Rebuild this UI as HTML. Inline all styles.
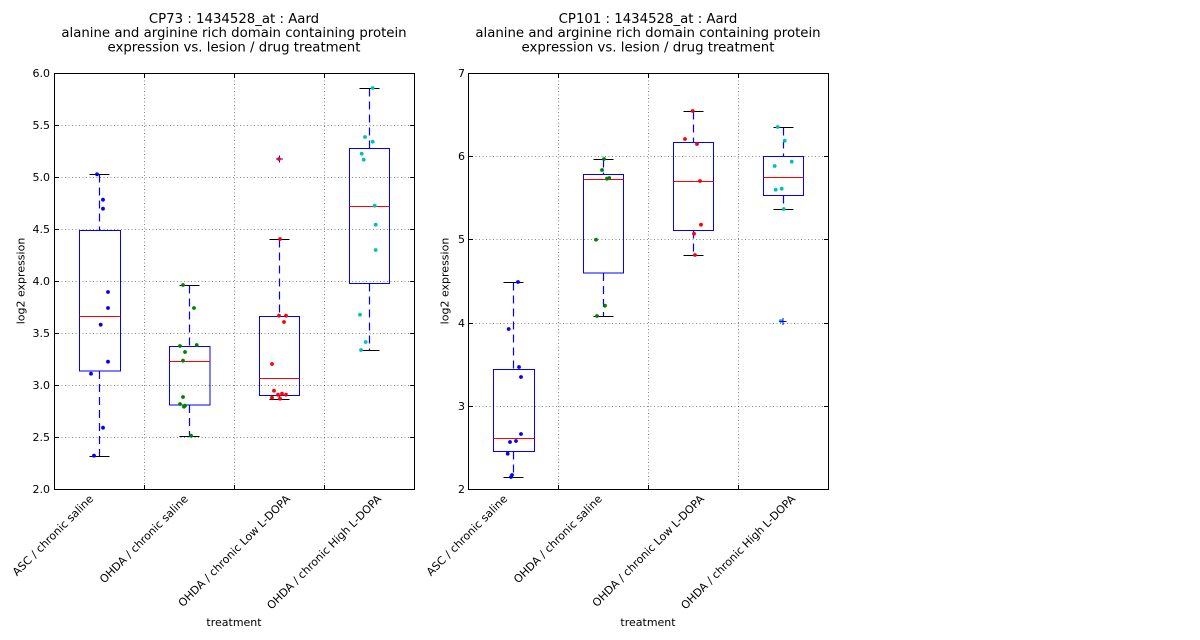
<!DOCTYPE html>
<html><head><meta charset="utf-8"><style>
html,body{margin:0;padding:0;background:#fff;}
svg{display:block;}
text{font-family:"DejaVu Sans","Liberation Sans",sans-serif;fill:#000;}
</style></head><body>
<svg width="1200" height="640" viewBox="0 0 1200 640" xmlns="http://www.w3.org/2000/svg">
<rect width="1200" height="640" fill="#fff"/>

<!-- ================= LEFT PANEL ================= -->
<g>
<g stroke="#000" stroke-opacity="0.6" stroke-width="0.8" stroke-dasharray="1,2.5" fill="none">
<line x1="54.5" y1="437.5" x2="414.5" y2="437.5"/>
<line x1="54.5" y1="385.5" x2="414.5" y2="385.5"/>
<line x1="54.5" y1="333.5" x2="414.5" y2="333.5"/>
<line x1="54.5" y1="281.5" x2="414.5" y2="281.5"/>
<line x1="54.5" y1="229.5" x2="414.5" y2="229.5"/>
<line x1="54.5" y1="177.5" x2="414.5" y2="177.5"/>
<line x1="54.5" y1="125.5" x2="414.5" y2="125.5"/>
<line x1="144.5" y1="73.5" x2="144.5" y2="489.5"/>
<line x1="234.5" y1="73.5" x2="234.5" y2="489.5"/>
<line x1="324.5" y1="73.5" x2="324.5" y2="489.5"/>
</g>
<g stroke="#000" stroke-width="1">
<line x1="54.5" y1="437.5" x2="59" y2="437.5"/><line x1="414.5" y1="437.5" x2="410" y2="437.5"/>
<line x1="54.5" y1="385.5" x2="59" y2="385.5"/><line x1="414.5" y1="385.5" x2="410" y2="385.5"/>
<line x1="54.5" y1="333.5" x2="59" y2="333.5"/><line x1="414.5" y1="333.5" x2="410" y2="333.5"/>
<line x1="54.5" y1="281.5" x2="59" y2="281.5"/><line x1="414.5" y1="281.5" x2="410" y2="281.5"/>
<line x1="54.5" y1="229.5" x2="59" y2="229.5"/><line x1="414.5" y1="229.5" x2="410" y2="229.5"/>
<line x1="54.5" y1="177.5" x2="59" y2="177.5"/><line x1="414.5" y1="177.5" x2="410" y2="177.5"/>
<line x1="54.5" y1="125.5" x2="59" y2="125.5"/><line x1="414.5" y1="125.5" x2="410" y2="125.5"/>
<line x1="144.5" y1="489.5" x2="144.5" y2="485"/><line x1="144.5" y1="73.5" x2="144.5" y2="78"/>
<line x1="234.5" y1="489.5" x2="234.5" y2="485"/><line x1="234.5" y1="73.5" x2="234.5" y2="78"/>
<line x1="324.5" y1="489.5" x2="324.5" y2="485"/><line x1="324.5" y1="73.5" x2="324.5" y2="78"/>
</g>

<g fill="none" stroke-width="1">
<rect x="79.5" y="230.5" width="41" height="140.5" stroke="#0000ff"/>
<line x1="79.5" y1="316.5" x2="120.5" y2="316.5" stroke="#ff0000"/>
<line x1="99.5" y1="174.5" x2="99.5" y2="230.5" stroke="#0000ff" stroke-width="1.2" stroke-dasharray="8,5"/>
<line x1="99.5" y1="371" x2="99.5" y2="456.5" stroke="#0000ff" stroke-width="1.2" stroke-dasharray="8,5"/>
<line x1="89.5" y1="174.5" x2="109.5" y2="174.5" stroke="#000"/>
<line x1="89.5" y1="456.5" x2="109.5" y2="456.5" stroke="#000"/>

<rect x="169.5" y="346.5" width="40.5" height="58.5" stroke="#0000ff"/>
<line x1="169.5" y1="361.5" x2="210" y2="361.5" stroke="#ff0000"/>
<line x1="189.5" y1="285.5" x2="189.5" y2="346.5" stroke="#0000ff" stroke-width="1.2" stroke-dasharray="8,5"/>
<line x1="189.5" y1="405" x2="189.5" y2="436.5" stroke="#0000ff" stroke-width="1.2" stroke-dasharray="8,5"/>
<line x1="179.5" y1="285.5" x2="199.5" y2="285.5" stroke="#000"/>
<line x1="179.5" y1="436.5" x2="199.5" y2="436.5" stroke="#000"/>

<rect x="259.5" y="316.5" width="40" height="79" stroke="#0000ff"/>
<line x1="259.5" y1="378.5" x2="299.5" y2="378.5" stroke="#ff0000"/>
<line x1="279.5" y1="239.5" x2="279.5" y2="316.5" stroke="#0000ff" stroke-width="1.2" stroke-dasharray="8,5"/>
<line x1="279.5" y1="395.5" x2="279.5" y2="399.5" stroke="#0000ff" stroke-width="1.2"/>
<line x1="269.5" y1="239.5" x2="289.5" y2="239.5" stroke="#000"/>
<line x1="269.5" y1="399.5" x2="289.5" y2="399.5" stroke="#000"/>
<line x1="276" y1="159" x2="283" y2="159" stroke="#0000ff"/>
<line x1="279.5" y1="155.5" x2="279.5" y2="162.5" stroke="#0000ff"/>

<rect x="349.5" y="148.5" width="40" height="135" stroke="#0000ff"/>
<line x1="349.5" y1="206.5" x2="389.5" y2="206.5" stroke="#ff0000"/>
<line x1="369.5" y1="88.5" x2="369.5" y2="148.5" stroke="#0000ff" stroke-width="1.2" stroke-dasharray="8,5"/>
<line x1="369.5" y1="283.5" x2="369.5" y2="350.5" stroke="#0000ff" stroke-width="1.2" stroke-dasharray="8,5"/>
<line x1="359.5" y1="88.5" x2="379.5" y2="88.5" stroke="#000"/>
<line x1="359.5" y1="350.5" x2="379.5" y2="350.5" stroke="#000"/>
</g>

<g fill="#0000ff">
<circle cx="97" cy="174.3" r="1.9"/><circle cx="103" cy="199.7" r="1.9"/><circle cx="103" cy="208.7" r="1.9"/>
<circle cx="108" cy="292" r="1.9"/><circle cx="108" cy="308" r="1.9"/><circle cx="100.7" cy="324.7" r="1.9"/>
<circle cx="108" cy="361.7" r="1.9"/><circle cx="91" cy="373.7" r="1.9"/><circle cx="103" cy="427.7" r="1.9"/>
<circle cx="94" cy="455.7" r="1.9"/>
</g>
<g fill="#008000">
<circle cx="183" cy="285" r="1.9"/><circle cx="194" cy="308" r="1.9"/><circle cx="180" cy="346" r="1.9"/>
<circle cx="196.7" cy="345" r="1.9"/><circle cx="185" cy="352" r="1.9"/><circle cx="183" cy="360.7" r="1.9"/>
<circle cx="183" cy="397" r="1.9"/><circle cx="180" cy="404" r="1.9"/><circle cx="184" cy="406.7" r="1.9"/>
<circle cx="185" cy="405.7" r="1.9"/><circle cx="191" cy="435.7" r="1.9"/>
</g>
<g fill="#ff0000">
<circle cx="279" cy="159" r="1.9"/><circle cx="280" cy="239" r="1.9"/><circle cx="279" cy="315.7" r="1.9"/>
<circle cx="286" cy="315.7" r="1.9"/><circle cx="284" cy="322" r="1.9"/><circle cx="272" cy="364" r="1.9"/>
<circle cx="274" cy="390.7" r="1.9"/><circle cx="278" cy="394.7" r="1.9"/><circle cx="282" cy="393.7" r="1.9"/>
<circle cx="286" cy="394.7" r="1.9"/><circle cx="272" cy="397.7" r="1.9"/><circle cx="280" cy="398.7" r="1.9"/>
</g>
<g fill="#00bfbf">
<circle cx="372.7" cy="88" r="1.9"/><circle cx="365" cy="137" r="1.9"/><circle cx="372.7" cy="141.7" r="1.9"/>
<circle cx="361.7" cy="153.7" r="1.9"/><circle cx="363.7" cy="159.7" r="1.9"/><circle cx="374.7" cy="205.7" r="1.9"/>
<circle cx="375.7" cy="224.7" r="1.9"/><circle cx="375.7" cy="250" r="1.9"/><circle cx="360" cy="314.7" r="1.9"/>
<circle cx="365.7" cy="342" r="1.9"/><circle cx="361" cy="350" r="1.9"/>
</g>

<rect x="54.5" y="73.5" width="360" height="416" fill="none" stroke="#000" stroke-width="1"/>

<g font-size="11" text-anchor="end">
<text x="50" y="493">2.0</text>
<text x="50" y="441">2.5</text>
<text x="50" y="389">3.0</text>
<text x="50" y="337">3.5</text>
<text x="50" y="285">4.0</text>
<text x="50" y="233">4.5</text>
<text x="50" y="181">5.0</text>
<text x="50" y="129">5.5</text>
<text x="50" y="77">6.0</text>
</g>
<text x="24.5" y="281" font-size="11" text-anchor="middle" transform="rotate(-90 24.5 281)">log2 expression</text>

<g font-size="11" text-anchor="end">
<text x="94" y="499.5" transform="rotate(-45 94 499.5)">ASC / chronic saline</text>
<text x="188.7" y="499.5" transform="rotate(-45 188.7 499.5)">OHDA / chronic saline</text>
<text x="290.8" y="499.5" transform="rotate(-45 290.8 499.5)">OHDA / chronic Low L-DOPA</text>
<text x="382" y="499.5" transform="rotate(-45 382 499.5)">OHDA / chronic High L-DOPA</text>
</g>
<text x="234" y="626" font-size="11" text-anchor="middle">treatment</text>

<g font-size="13.3" text-anchor="middle">
<text x="234" y="23">CP73 : 1434528_at : Aard</text>
<text x="234" y="37">alanine and arginine rich domain containing protein</text>
<text x="234" y="51.5">expression vs. lesion / drug treatment</text>
</g>
</g>

<!-- ================= RIGHT PANEL ================= -->
<g>
<g stroke="#000" stroke-opacity="0.6" stroke-width="0.8" stroke-dasharray="1,2.5" fill="none">
<line x1="468.5" y1="406.5" x2="828.5" y2="406.5"/>
<line x1="468.5" y1="323.5" x2="828.5" y2="323.5"/>
<line x1="468.5" y1="239.5" x2="828.5" y2="239.5"/>
<line x1="468.5" y1="156.5" x2="828.5" y2="156.5"/>
<line x1="558.5" y1="73.5" x2="558.5" y2="489.5"/>
<line x1="648.5" y1="73.5" x2="648.5" y2="489.5"/>
<line x1="738.5" y1="73.5" x2="738.5" y2="489.5"/>
</g>
<g stroke="#000" stroke-width="1">
<line x1="468.5" y1="406.5" x2="473" y2="406.5"/><line x1="828.5" y1="406.5" x2="824" y2="406.5"/>
<line x1="468.5" y1="323.5" x2="473" y2="323.5"/><line x1="828.5" y1="323.5" x2="824" y2="323.5"/>
<line x1="468.5" y1="239.5" x2="473" y2="239.5"/><line x1="828.5" y1="239.5" x2="824" y2="239.5"/>
<line x1="468.5" y1="156.5" x2="473" y2="156.5"/><line x1="828.5" y1="156.5" x2="824" y2="156.5"/>
<line x1="558.5" y1="489.5" x2="558.5" y2="485"/><line x1="558.5" y1="73.5" x2="558.5" y2="78"/>
<line x1="648.5" y1="489.5" x2="648.5" y2="485"/><line x1="648.5" y1="73.5" x2="648.5" y2="78"/>
<line x1="738.5" y1="489.5" x2="738.5" y2="485"/><line x1="738.5" y1="73.5" x2="738.5" y2="78"/>
</g>

<g fill="none" stroke-width="1">
<rect x="493.5" y="369.5" width="41" height="82" stroke="#0000ff"/>
<line x1="493.5" y1="438.5" x2="534.5" y2="438.5" stroke="#ff0000"/>
<line x1="513.5" y1="282.5" x2="513.5" y2="369.5" stroke="#0000ff" stroke-width="1.2" stroke-dasharray="8,5"/>
<line x1="513.5" y1="451.5" x2="513.5" y2="477.5" stroke="#0000ff" stroke-width="1.2" stroke-dasharray="8,5"/>
<line x1="503.5" y1="282.5" x2="523.5" y2="282.5" stroke="#000"/>
<line x1="503.5" y1="477.5" x2="523.5" y2="477.5" stroke="#000"/>

<rect x="583.5" y="174.5" width="40" height="98.5" stroke="#0000ff"/>
<line x1="583.5" y1="179.5" x2="623.5" y2="179.5" stroke="#ff0000"/>
<line x1="603.5" y1="159.5" x2="603.5" y2="174.5" stroke="#0000ff" stroke-width="1.2" stroke-dasharray="8,5"/>
<line x1="603.5" y1="273" x2="603.5" y2="316.5" stroke="#0000ff" stroke-width="1.2" stroke-dasharray="8,5"/>
<line x1="593.5" y1="159.5" x2="613.5" y2="159.5" stroke="#000"/>
<line x1="593.5" y1="316.5" x2="613.5" y2="316.5" stroke="#000"/>

<rect x="673.5" y="142.5" width="40" height="88" stroke="#0000ff"/>
<line x1="673.5" y1="181.5" x2="713.5" y2="181.5" stroke="#ff0000"/>
<line x1="693.5" y1="111.5" x2="693.5" y2="142.5" stroke="#0000ff" stroke-width="1.2" stroke-dasharray="8,5"/>
<line x1="693.5" y1="230.5" x2="693.5" y2="255.5" stroke="#0000ff" stroke-width="1.2" stroke-dasharray="8,5"/>
<line x1="683.5" y1="111.5" x2="703.5" y2="111.5" stroke="#000"/>
<line x1="683.5" y1="255.5" x2="703.5" y2="255.5" stroke="#000"/>

<rect x="763.5" y="156.5" width="40" height="39" stroke="#0000ff"/>
<line x1="763.5" y1="177.5" x2="803.5" y2="177.5" stroke="#ff0000"/>
<line x1="783.5" y1="127.5" x2="783.5" y2="156.5" stroke="#0000ff" stroke-width="1.2" stroke-dasharray="8,5"/>
<line x1="783.5" y1="195.5" x2="783.5" y2="209.5" stroke="#0000ff" stroke-width="1.2" stroke-dasharray="8,5"/>
<line x1="773.5" y1="127.5" x2="793.5" y2="127.5" stroke="#000"/>
<line x1="773.5" y1="209.5" x2="793.5" y2="209.5" stroke="#000"/>
</g>

<g fill="#0000ff">
<circle cx="518" cy="282" r="1.9"/><circle cx="508.7" cy="329" r="1.9"/><circle cx="519" cy="367" r="1.9"/>
<circle cx="521" cy="377" r="1.9"/><circle cx="521" cy="434" r="1.9"/><circle cx="510" cy="442" r="1.9"/>
<circle cx="516" cy="441" r="1.9"/><circle cx="507.7" cy="453.7" r="1.9"/><circle cx="512" cy="475" r="1.9"/>
<circle cx="511" cy="477" r="1.9"/>
</g>
<g fill="#008000">
<circle cx="604" cy="159" r="1.9"/><circle cx="602" cy="170" r="1.9"/><circle cx="607" cy="178.7" r="1.9"/>
<circle cx="609.3" cy="178" r="1.9"/><circle cx="596" cy="239.7" r="1.9"/><circle cx="605" cy="305.7" r="1.9"/>
<circle cx="597" cy="316" r="1.9"/>
</g>
<g fill="#ff0000">
<circle cx="692.7" cy="111" r="1.9"/><circle cx="685" cy="139" r="1.9"/><circle cx="697" cy="144" r="1.9"/>
<circle cx="700" cy="181" r="1.9"/><circle cx="701" cy="224.7" r="1.9"/><circle cx="694" cy="233.7" r="1.9"/>
<circle cx="695" cy="255" r="1.9"/>
</g>
<g fill="#00bfbf">
<circle cx="777.7" cy="127" r="1.9"/><circle cx="784.7" cy="140.7" r="1.9"/><circle cx="774.7" cy="166" r="1.9"/>
<circle cx="791.7" cy="161.7" r="1.9"/><circle cx="775.7" cy="189.7" r="1.9"/><circle cx="781.7" cy="188.7" r="1.9"/>
<circle cx="783.7" cy="209" r="1.9"/><circle cx="780.7" cy="321" r="1.9"/>
</g>
<g stroke="#0000ff" stroke-width="1">
<line x1="779.5" y1="321.5" x2="786.5" y2="321.5"/>
<line x1="783" y1="318" x2="783" y2="325"/>
</g>

<rect x="468.5" y="73.5" width="360" height="416" fill="none" stroke="#000" stroke-width="1"/>

<g font-size="11" text-anchor="end">
<text x="465" y="493">2</text>
<text x="465" y="410">3</text>
<text x="465" y="327">4</text>
<text x="465" y="243">5</text>
<text x="465" y="160">6</text>
<text x="465" y="77">7</text>
</g>
<text x="448.5" y="281" font-size="11" text-anchor="middle" transform="rotate(-90 448.5 281)">log2 expression</text>

<g font-size="11" text-anchor="end">
<text x="508" y="499.5" transform="rotate(-45 508 499.5)">ASC / chronic saline</text>
<text x="602.7" y="499.5" transform="rotate(-45 602.7 499.5)">OHDA / chronic saline</text>
<text x="704.8" y="499.5" transform="rotate(-45 704.8 499.5)">OHDA / chronic Low L-DOPA</text>
<text x="796" y="499.5" transform="rotate(-45 796 499.5)">OHDA / chronic High L-DOPA</text>
</g>
<text x="648" y="626" font-size="11" text-anchor="middle">treatment</text>

<g font-size="13.3" text-anchor="middle">
<text x="648" y="23">CP101 : 1434528_at : Aard</text>
<text x="648" y="37">alanine and arginine rich domain containing protein</text>
<text x="648" y="51.5">expression vs. lesion / drug treatment</text>
</g>
</g>
</svg>
</body></html>
